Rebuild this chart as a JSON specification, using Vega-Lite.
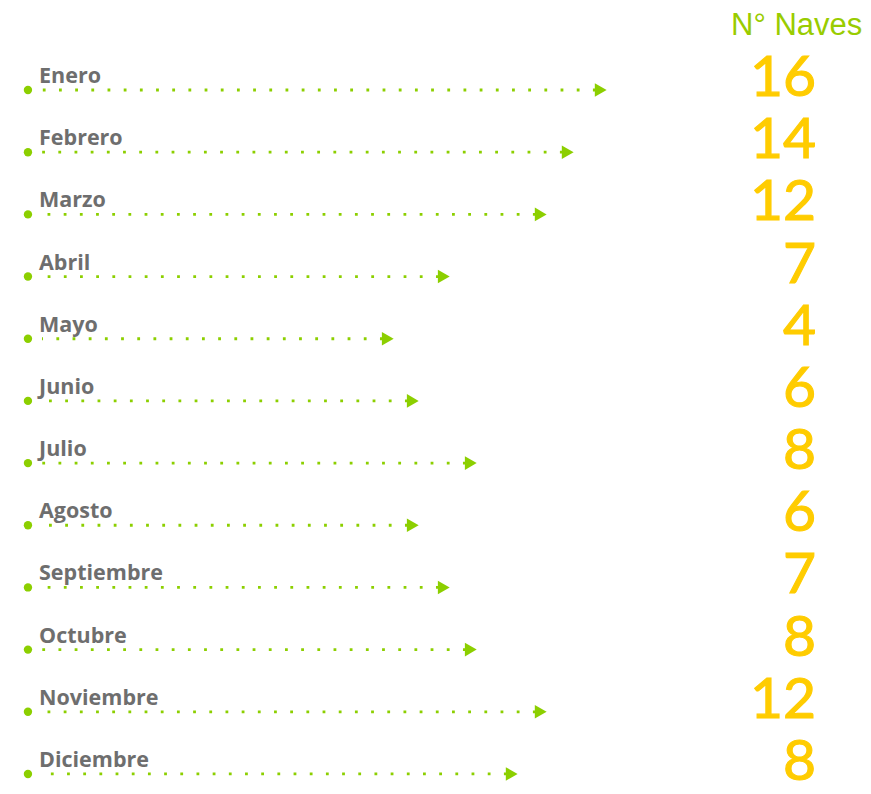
{
  "$schema": "https://vega.github.io/schema/vega-lite/v6.json",
  "width": 871,
  "height": 794,
  "autosize": "none",
  "padding": 0,
  "background": "#ffffff",
  "config": {"view": {"stroke": null}},
  "datasets": {
    "meses": [
      {"mes": "Enero", "naves": 16, "flecha": 68.97},
      {"mes": "Febrero", "naves": 14, "flecha": 65.18},
      {"mes": "Marzo", "naves": 12, "flecha": 62.08},
      {"mes": "Abril", "naves": 7, "flecha": 50.95},
      {"mes": "Mayo", "naves": 4, "flecha": 44.52},
      {"mes": "Junio", "naves": 6, "flecha": 47.39},
      {"mes": "Julio", "naves": 8, "flecha": 54.05},
      {"mes": "Agosto", "naves": 6, "flecha": 47.39},
      {"mes": "Septiembre", "naves": 7, "flecha": 50.95},
      {"mes": "Octubre", "naves": 8, "flecha": 54.05},
      {"mes": "Noviembre", "naves": 12, "flecha": 62.08},
      {"mes": "Diciembre", "naves": 8, "flecha": 58.75}
    ],
    "cabecera": [{"titulo": "N° Naves", "mes": "Enero"}]
  },
  "layer": [
    {
      "data": {"name": "meses"},
      "mark": {"type": "rule", "strokeWidth": 2.8, "strokeDash": [2.8, 13.38], "strokeCap": "butt", "color": "#8ccf00", "xOffset": -5},
      "encoding": {
        "y": {
          "field": "mes",
          "type": "ordinal",
          "axis": null,
          "scale": {
            "type": "point",
            "domain": ["Enero", "Febrero", "Marzo", "Abril", "Mayo", "Junio", "Julio", "Agosto", "Septiembre", "Octubre", "Noviembre", "Diciembre"],
            "padding": 0.885,
            "align": 0.818
          }
        },
        "x": {"field": "flecha", "type": "quantitative", "axis": null, "scale": {"domain": [0, 100], "nice": false, "zero": false}},
        "x2": {"datum": 4.82}
      }
    },
    {
      "data": {"name": "meses"},
      "mark": {"type": "point", "shape": "circle", "filled": true, "size": 70, "color": "#8ccf00", "opacity": 1},
      "encoding": {
        "y": {"field": "mes", "type": "ordinal"},
        "x": {"datum": 3.21, "type": "quantitative"}
      }
    },
    {
      "data": {"name": "meses"},
      "mark": {"type": "point", "shape": "triangle-right", "filled": true, "size": 185, "color": "#8ccf00", "opacity": 1},
      "encoding": {
        "y": {"field": "mes", "type": "ordinal"},
        "x": {"field": "flecha", "type": "quantitative"}
      }
    },
    {
      "data": {"name": "meses"},
      "mark": {"type": "text", "align": "left", "baseline": "alphabetic", "font": "Open Sans", "fontWeight": "bold", "fontSize": 21.5, "color": "#6e6e6e", "yOffset": -7},
      "encoding": {
        "y": {"field": "mes", "type": "ordinal"},
        "x": {"datum": 4.48, "type": "quantitative"},
        "text": {"field": "mes"}
      }
    },
    {
      "data": {"name": "meses"},
      "mark": {"type": "text", "align": "right", "baseline": "alphabetic", "font": "Lato", "fontWeight": "normal", "fontSize": 57, "fill": "#ffcc00", "stroke": "#ffcc00", "strokeWidth": 1.1, "yOffset": 6},
      "encoding": {
        "y": {"field": "mes", "type": "ordinal"},
        "x": {"datum": 93.7, "type": "quantitative"},
        "text": {"field": "naves"}
      }
    },
    {
      "data": {"name": "cabecera"},
      "mark": {"type": "text", "align": "right", "baseline": "middle", "font": "Liberation Sans", "fontSize": 31, "color": "#99cc00", "yOffset": -64},
      "encoding": {
        "y": {"field": "mes", "type": "ordinal"},
        "x": {"datum": 99.0, "type": "quantitative"},
        "text": {"field": "titulo"}
      }
    }
  ]
}
